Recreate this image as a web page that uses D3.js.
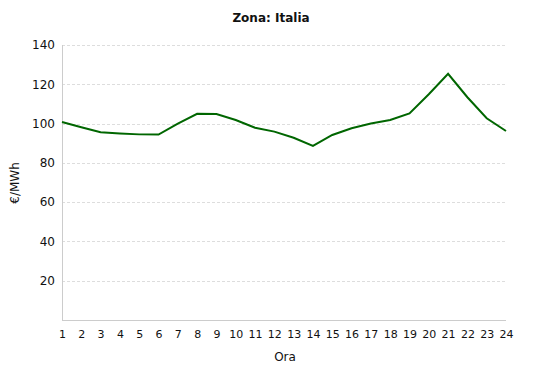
<!DOCTYPE html>
<html>
<head>
<meta charset="utf-8">
<script src="https://cdn.jsdelivr.net/npm/d3@7"></script>
<style>
  body { margin: 0; background: #fff; overflow: hidden; }
  svg { display: block; overflow: visible; }
  text { font-family: "DejaVu Sans", Verdana, sans-serif; fill: #111; }
  .grid line { stroke: #ddd; stroke-dasharray: 3,2; }
</style>
</head>
<body>
<svg></svg>
<script>
const hours = d3.range(1, 25);
const prices = [100.8, 98.1, 95.6, 95.0, 94.5, 94.4, 100.0, 105.0, 104.9, 101.8, 97.9, 95.9,
  92.8, 88.6, 94.2, 97.6, 100.0, 101.8, 105.2, 114.9, 125.3, 113.4, 102.7, 96.2];
const yTicks = [20, 40, 60, 80, 100, 120, 140];

const width = 542;
const height = 376;
const margin = { top: 45, right: 36, bottom: 56, left: 62 };
const innerWidth = width - margin.left - margin.right;
const innerHeight = height - margin.top - margin.bottom;

const svg = d3.select('svg')
  .attr('width', width)
  .attr('height', height);

svg.append('text')
  .attr('x', 271)
  .attr('y', 22)
  .attr('text-anchor', 'middle')
  .style('font-size', '12px')
  .style('font-weight', 'bold')
  .text('Zona: Italia');

const g = svg.append('g')
  .attr('transform', `translate(${margin.left},${margin.top})`);

const xScale = d3.scaleLinear()
  .domain([1, 24])
  .range([0, innerWidth]);

const yScale = d3.scaleLinear()
  .domain([0, 140])
  .range([innerHeight, 0]);

// grid
g.append('g')
  .attr('class', 'grid')
  .selectAll('line')
  .data(yTicks)
  .join('line')
  .attr('x1', 0)
  .attr('x2', innerWidth)
  .attr('y1', d => Math.round(yScale(d)) + 0.5)
  .attr('y2', d => Math.round(yScale(d)) + 0.5);

const yAxis = d3.axisLeft(yScale)
  .tickValues(yTicks)
  .tickSize(0)
  .tickPadding(7);

const yAxisGroup = g.append('g').call(yAxis);
yAxisGroup.select('.domain').remove();
yAxisGroup.selectAll('text').style('font-size', '12px');

const xAxis = d3.axisBottom(xScale)
  .tickValues(hours)
  .tickFormat(d3.format('d'))
  .tickSize(0)
  .tickPadding(10);

const xAxisGroup = g.append('g')
  .attr('transform', `translate(0,${innerHeight})`)
  .call(xAxis);
xAxisGroup.select('.domain').remove();
xAxisGroup.selectAll('text').style('font-size', '11px');

// frame lines
g.append('line')
  .attr('x1', 0.5).attr('x2', 0.5)
  .attr('y1', 0).attr('y2', innerHeight)
  .attr('stroke', '#ccc');
g.append('line')
  .attr('x1', 0).attr('x2', innerWidth)
  .attr('y1', innerHeight + 0.5).attr('y2', innerHeight + 0.5)
  .attr('stroke', '#ccc');

const line = d3.line()
  .x((d, i) => xScale(hours[i]))
  .y(d => yScale(d));

g.append('path')
  .datum(prices)
  .attr('fill', 'none')
  .attr('stroke', '#006600')
  .attr('stroke-width', 2)
  .attr('d', line);

svg.append('text')
  .attr('transform', 'rotate(-90)')
  .attr('x', -183)
  .attr('y', 19)
  .attr('text-anchor', 'middle')
  .style('font-size', '12px')
  .text('€/MWh');

svg.append('text')
  .attr('x', 285)
  .attr('y', 361)
  .attr('text-anchor', 'middle')
  .style('font-size', '12px')
  .text('Ora');
</script>
</body>
</html>
